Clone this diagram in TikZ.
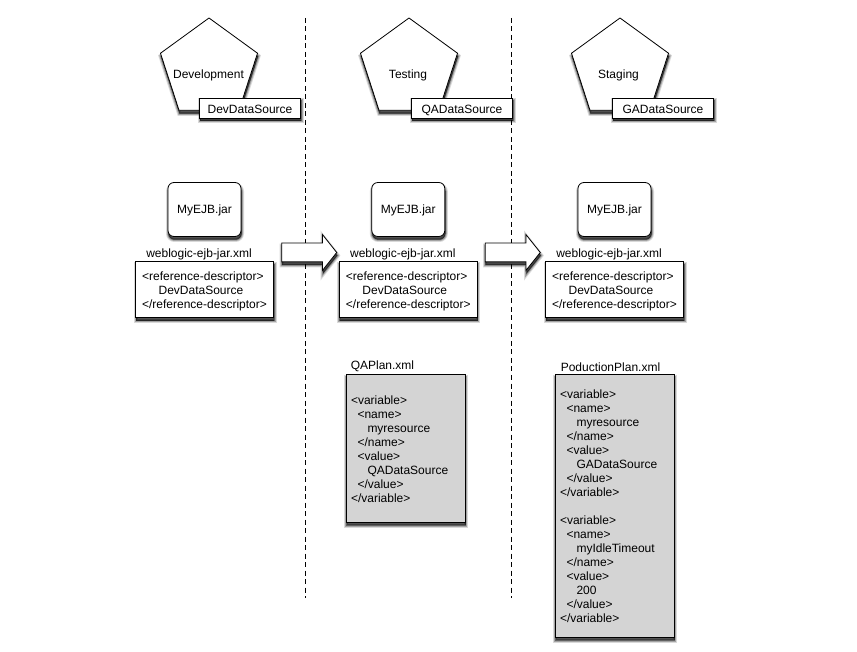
\documentclass[tikz,border=0pt]{standalone}
\usepackage{fontspec}
\setmainfont{Liberation Sans}
\usetikzlibrary{positioning,shapes.geometric,shapes.arrows,shadows}

\newcommand{\indA}{\hspace*{6.5pt}}
\newcommand{\indB}{\hspace*{16.5pt}}
\newcommand{\toppad}{\rule{0pt}{11pt}}

\begin{document}
\begin{tikzpicture}[
  x=1pt, y=-1pt,
  font=\fontsize{12}{14}\selectfont,
  % Soft shadow below and to the right
  softshadow/.style={
    drop shadow={shadow xshift=0.5pt, shadow yshift=-3pt, fill=black, draw=black,
      line width=5pt, opacity=.15},
    drop shadow={shadow xshift=0.5pt, shadow yshift=-3pt, fill=black, draw=black,
      line width=3pt, opacity=.25},
    drop shadow={shadow xshift=0.5pt, shadow yshift=-3pt, fill=black, draw=black,
      line width=1pt, opacity=.4}},
  % Pentagons for the environments
  site/.style={regular polygon, regular polygon sides=5, draw, fill=white,
    line width=0.8pt, minimum size=102pt, inner sep=0pt, softshadow},
  source/.style={rectangle, draw, fill=white, line width=0.8pt,
    minimum width=101pt, minimum height=20pt, inner sep=0pt,
    text height=10.6pt, text depth=0pt, softshadow},
  jar/.style={rectangle, rounded corners=6pt, draw, fill=white, line width=0.8pt,
    minimum width=73pt, minimum height=54pt, inner sep=0pt,
    text height=10.5pt, text depth=2.5pt, softshadow},
  descriptor/.style={rectangle, draw, fill=white, line width=0.8pt,
    minimum width=138pt, minimum height=56pt, inner sep=0pt, softshadow},
  plan/.style={rectangle, draw, fill=black!17, line width=0.8pt,
    minimum width=119pt, inner sep=0pt, softshadow},
  caption/.style={inner sep=0pt},
  promote/.style={single arrow, draw, fill=white, line width=0.8pt,
    inner xsep=0pt, inner ysep=9pt,
    minimum width=35pt, minimum height=55pt, single arrow head extend=8.5pt,
    single arrow tip angle=103, single arrow head indent=0pt, softshadow},
  border/.style={dash pattern=on 5pt off 3.5pt, line width=0.7pt},
]
  \useasboundingbox (0,0) rectangle (857,652);

  % === Borders between environments ===
  \coordinate (borderAtop) at (305,18);
  \coordinate (borderAend) at (305,598);
  \coordinate (borderBtop) at (511,18);
  \coordinate (borderBend) at (511,598);
  \draw[border] (borderAtop) -- (borderAend);
  \draw[border] (borderBtop) -- (borderBend);

  % === Environments ===
  \node[site] (dev) at (209,69) {};
  \node[site] (test) at (409,69) {};
  \node[site] (stage) at (620,69) {};
  \node[caption] (devname) at (208.5,75) {Development};
  \node[caption] (testname) at (408,75) {Testing};
  \node[caption] (stagename) at (618.5,75) {Staging};
  \node[source] (devsrc) at (250,108) {DevDataSource};
  \node[source] (testsrc) at (462,108) {QADataSource};
  \node[source] (stagesrc) at (663,108) {GADataSource};

  % === Jars ===
  \node[jar] (devjar) at (204.5,209.5) {MyEJB.jar};
  \node[jar] (testjar) at (408.3,209.5) {MyEJB.jar};
  \node[jar] (stagejar) at (614.5,209.5) {MyEJB.jar};

  % === Descriptors ===
  \node[descriptor,below=24.5pt of devjar,align=left] (devdesc)
    {\toppad\mbox{<reference-descriptor>}\\\indB DevDataSource\\\mbox{</reference-descriptor>}};
  \node[descriptor,below=24.5pt of testjar,align=left] (testdesc)
    {\toppad\mbox{<reference-descriptor>}\\\indB DevDataSource\\\mbox{</reference-descriptor>}};
  \node[descriptor,below=24.5pt of stagejar,align=left] (stagedesc)
    {\toppad\mbox{<reference-descriptor>}\\\indB DevDataSource\\\mbox{</reference-descriptor>}};
  \node[caption,above=1pt of devdesc,xshift=-5.5pt] (devxml) {weblogic-ejb-jar.xml};
  \node[caption,above=1pt of testdesc,xshift=-5.5pt] (testxml) {weblogic-ejb-jar.xml};
  \node[caption,above=1pt of stagedesc,xshift=-5.5pt] (stagexml) {weblogic-ejb-jar.xml};

  % === Promotion arrows ===
  \node[promote] (devtotest) at (305.5,252.5) {};
  \node[promote] (testtostage) at (509,252.5) {};

  % === Plans ===
  \node[plan,minimum height=148pt,text width=109pt,align=left] (qaplan) at (405.5,448)
    {\toppad<variable>\\
     \indA <name>\\
     \indB myresource\\
     \indA </name>\\
     \indA <value>\\
     \indB QADataSource\\
     \indA </value>\\
     </variable>};
  \node[plan,minimum height=263pt,text width=109pt,align=left] (prodplan) at (614.5,505.5)
    {\toppad<variable>\\
     \indA <name>\\
     \indB myresource\\
     \indA </name>\\
     \indA <value>\\
     \indB GADataSource\\
     \indA </value>\\
     </variable>\\[14pt]
     <variable>\\
     \indA <name>\\
     \indB myIdleTimeout\\
     \indA </name>\\
     \indA <value>\\
     \indB 200\\
     \indA </value>\\
     </variable>};
  \node[caption,above=2pt of qaplan.north west,anchor=south west,xshift=5pt] (qaname) {QAPlan.xml};
  \node[caption,above=2pt of prodplan.north west,anchor=south west,xshift=6pt] (prodname) {PoductionPlan.xml};
\end{tikzpicture}
\end{document}
